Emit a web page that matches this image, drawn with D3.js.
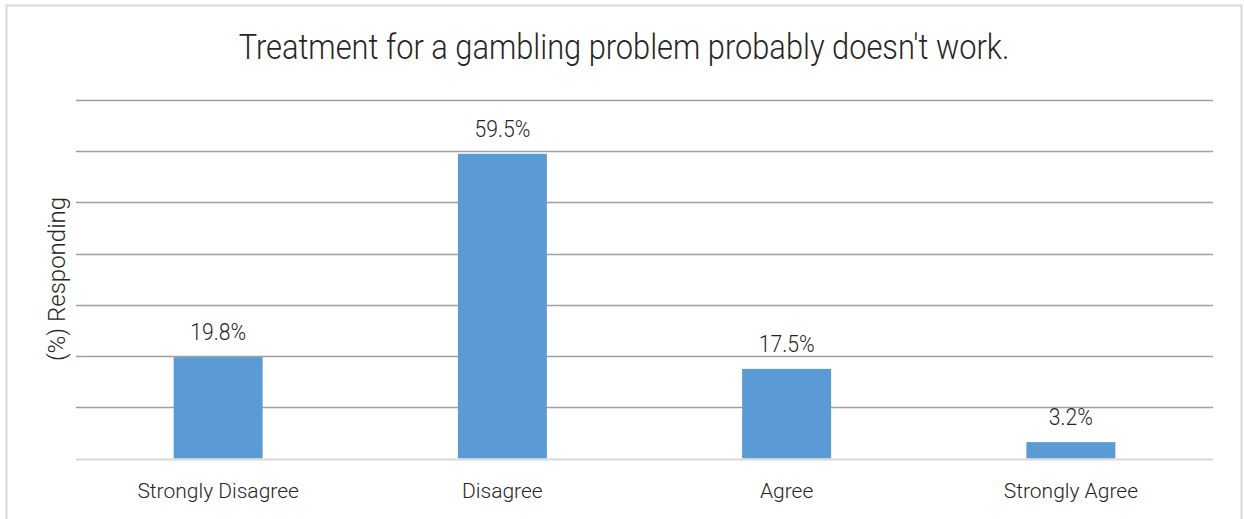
<!DOCTYPE html>
<html>
<head>
<meta charset="utf-8">
<script src="https://cdn.jsdelivr.net/npm/d3@7"></script>
<style>
  body { margin: 0; background: #fff; }
  text { font-family: Roboto, sans-serif; font-weight: 300; fill: #262626; }
</style>
</head>
<body>
<div class="chart__container"></div>
<script>
// data
const CATEGORIES = ["Strongly Disagree", "Disagree", "Agree", "Strongly Agree"];
const VALUES = [19.8, 59.5, 17.5, 3.2];
const Y_TICKS = [0, 10, 20, 30, 40, 50, 60, 70];
const TITLE = "Treatment for a gambling problem probably doesn't work.";
const Y_LABEL = "(%) Responding";

const CHART__WIDTH = 1244;
const CHART__HEIGHT = 519;

const MARGIN = { top: 100, right: 31, bottom: 60, left: 76 };

// the title and value labels use a narrower face than Roboto, squeeze a bit
const NARROW = 0.88;

const svg = d3.select(".chart__container").append("svg")
    .attr("width", CHART__WIDTH)
    .attr("height", CHART__HEIGHT);

// outer border
svg.append("rect")
    .attr("x", 6.5).attr("y", 5.5)
    .attr("width", 1235).attr("height", 530)
    .attr("fill", "none")
    .attr("stroke", "#d9d9d9")
    .attr("stroke-width", 2);

const xScale = d3.scaleBand()
    .domain(CATEGORIES)
    .range([MARGIN.left, CHART__WIDTH - MARGIN.right])
    .paddingInner(0.687)
    .paddingOuter(0.3435);

const yScale = d3.scaleLinear()
    .domain([0, 70])
    .range([CHART__HEIGHT - MARGIN.bottom - 0.5, MARGIN.top]);

// gridlines
svg.append("g")
    .selectAll("line")
    .data(Y_TICKS.filter(d => d > 0))
    .enter()
    .append("line")
    .attr("x1", MARGIN.left)
    .attr("x2", CHART__WIDTH - MARGIN.right)
    .attr("y1", d => Math.round(yScale(d)) + 0.5)
    .attr("y2", d => Math.round(yScale(d)) + 0.5)
    .attr("stroke", "#a0a0a0")
    .attr("stroke-width", 1.5);

// bars
svg.append("g")
    .selectAll("rect")
    .data(VALUES)
    .enter()
    .append("rect")
    .attr("x", (d, i) => xScale(CATEGORIES[i]))
    .attr("y", d => yScale(d))
    .attr("width", xScale.bandwidth())
    .attr("height", d => yScale(0) - yScale(d))
    .attr("fill", "#5b9bd5");

// baseline
svg.append("line")
    .attr("x1", MARGIN.left)
    .attr("x2", CHART__WIDTH - MARGIN.right)
    .attr("y1", yScale(0) + 1)
    .attr("y2", yScale(0) + 1)
    .attr("stroke", "#d9d9d9")
    .attr("stroke-width", 2);

// value labels
svg.append("g")
    .selectAll("text")
    .data(VALUES)
    .enter()
    .append("text")
    .attr("x", (d, i) => xScale(CATEGORIES[i]) + xScale.bandwidth() / 2)
    .attr("y", d => yScale(d) - 17)
    .attr("text-anchor", "middle")
    .attr("font-size", 24)
    .text(d => d.toFixed(1) + "%")
    .each(function() {
        const len = this.getComputedTextLength();
        d3.select(this).attr("textLength", len * NARROW).attr("lengthAdjust", "spacingAndGlyphs");
    });

// x axis
const xAxis = d3.axisBottom(xScale).tickSize(0).tickPadding(0);
svg.append("g")
    .attr("transform", `translate(0,${yScale(0)})`)
    .call(xAxis)
    .call(g => g.select(".domain").remove())
    .selectAll("text")
    .attr("dy", null)
    .attr("y", 39.5)
    .attr("font-size", 21)
    .style("font-family", "Roboto, sans-serif")
    .style("font-weight", 300)
    .attr("fill", "#262626");

// title
svg.append("text")
    .attr("x", 624)
    .attr("y", 59)
    .attr("text-anchor", "middle")
    .attr("font-size", 35)
    .text(TITLE)
    .each(function() {
        const len = this.getComputedTextLength();
        d3.select(this).attr("textLength", len * NARROW).attr("lengthAdjust", "spacingAndGlyphs");
    });

// y label
svg.append("text")
    .attr("transform", `translate(65,${279}) rotate(-90)`)
    .attr("text-anchor", "middle")
    .attr("font-size", 24)
    .text(Y_LABEL);
</script>
</body>
</html>
